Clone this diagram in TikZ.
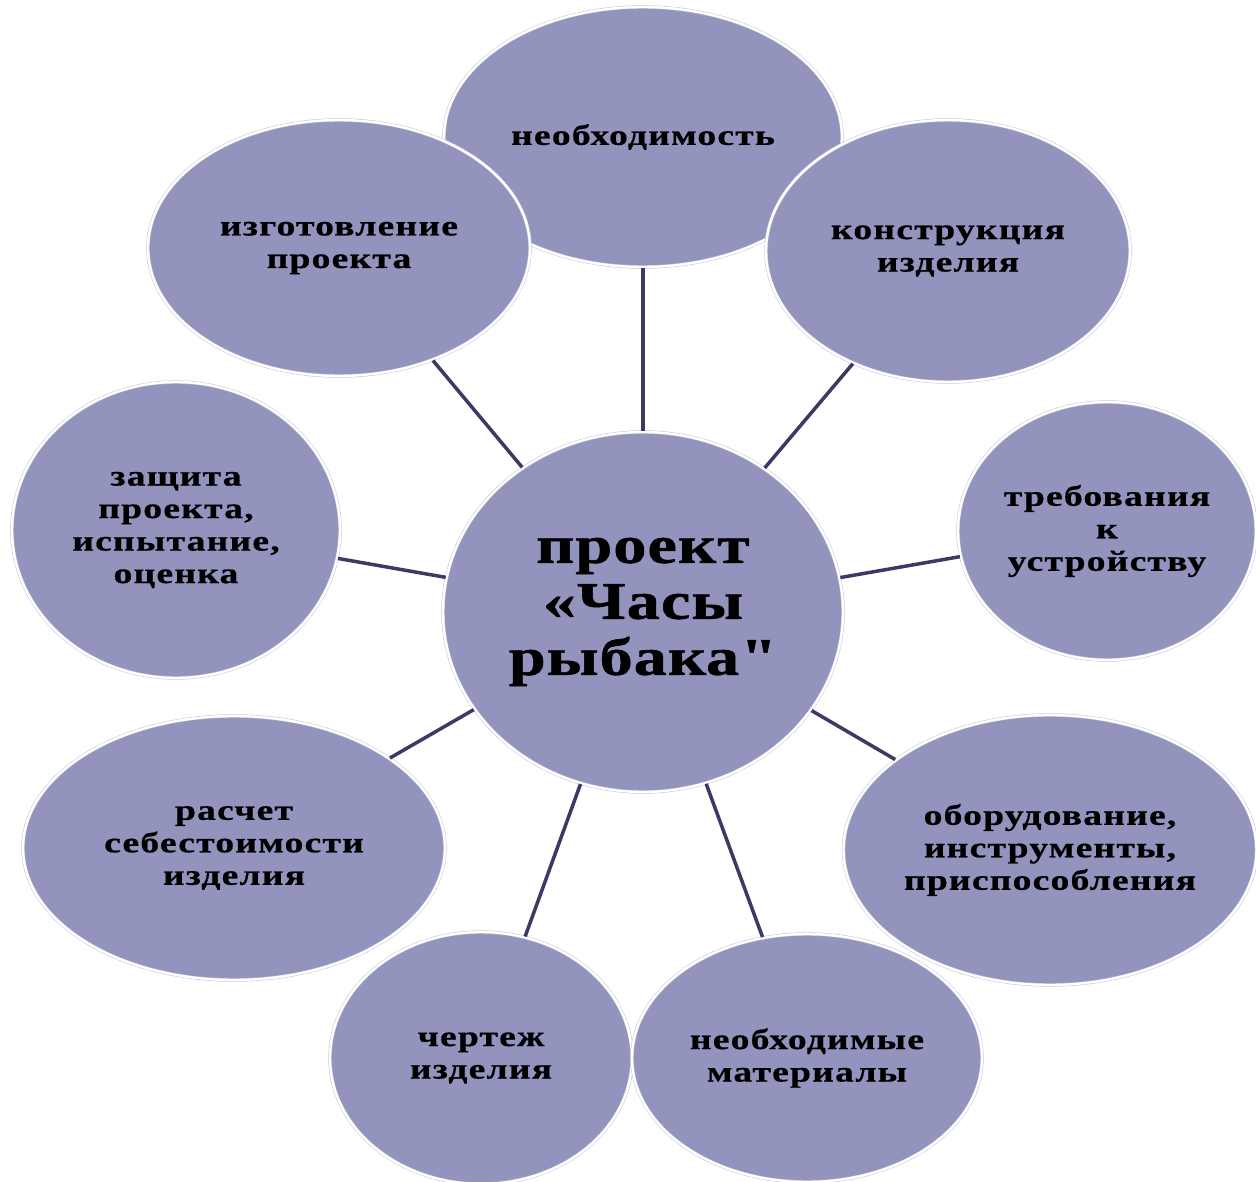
\documentclass[tikz,border=0pt]{standalone}
\usepackage{fontspec}
\usetikzlibrary{shapes.geometric}
\newfontfamily\lbl[FakeStretch=1.3,LetterSpace=4,FakeBold=0.6]{Liberation Serif}
\newfontfamily\ctr[FakeStretch=1.25,LetterSpace=2,FakeBold=1]{Liberation Serif}
\definecolor{bubfill}{RGB}{146,148,190}
\definecolor{bubedge}{RGB}{196,196,210}
\definecolor{linkc}{RGB}{58,58,100}
\tikzset{
  bub/.style={ellipse, fill=bubfill, draw=bubedge, double=white, double distance=2.4pt,
    line width=0.5pt, inner sep=0pt, outer sep=0pt, text=black, align=center,
    font=\lbl\bfseries\fontsize{29}{32.5}\selectfont},
  hub/.style={bub, font=\ctr\bfseries\fontsize{53}{56}\selectfont},
  link/.style={draw=linkc, line width=3.5pt, shorten <=1pt, shorten >=1pt}
}
\begin{document}
\begin{tikzpicture}[x=1pt,y=-1pt]
\useasboundingbox (0,0) rectangle (1256,1182);
\node[bub, minimum width=398, minimum height=260] (need) at (643,137) {необходимость};
\node[bub, minimum width=302, minimum height=252] (draw) at (481,1058) {чертеж\\изделия};
\node[bub, minimum width=350, minimum height=248] (mat) at (807,1058) {необходимые\\материалы};
\node[bub, minimum width=382, minimum height=256] (make) at (339,248) {изготовление\\проекта};
\node[bub, minimum width=364, minimum height=262] (cons) at (948,251) {конструкция\\изделия};
\node[bub, minimum width=328, minimum height=296] (def) at (176,530) {защита\\проекта,\\испытание,\\оценка};
\node[bub, minimum width=298, minimum height=258] (req) at (1107,531) {требования\\к\\устройству};
\node[bub, minimum width=410, minimum height=270] (equip) at (1050,850) {оборудование,\\инструменты,\\приспособления};
\node[bub, minimum width=422, minimum height=264] (cost) at (234,848) {расчет\\себестоимости\\изделия};
\node[hub, minimum width=400, minimum height=360] (c) at (643,612) {проект\\«Часы\\рыбака\char"22};
\foreach \n in {need,make,cons,def,req,equip,cost,draw,mat}
  \draw[link] (c) -- (\n);
\end{tikzpicture}
\end{document}
